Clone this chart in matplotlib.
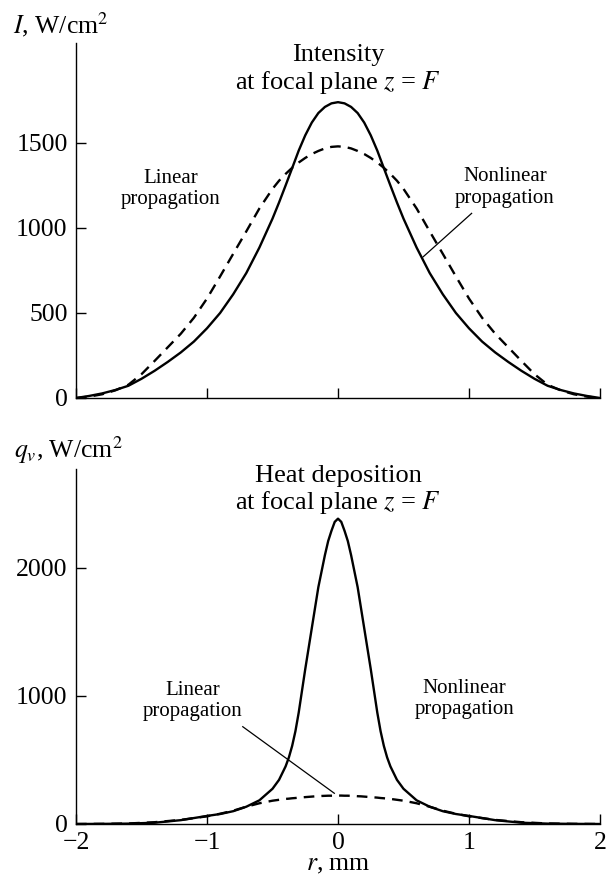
import matplotlib
matplotlib.use("Agg")
import matplotlib.pyplot as plt

plt.rcParams['font.family'] = ['Liberation Serif', 'DejaVu Serif']
plt.rcParams['mathtext.fontset'] = 'stix'

# ---------------- data ----------------
r_top = [-2.0, -1.9, -1.8, -1.7, -1.6, -1.5, -1.4, -1.3, -1.2, -1.1, -1.0,
         -0.9, -0.8, -0.7, -0.6, -0.5, -0.45, -0.4, -0.35, -0.3, -0.25,
         -0.2, -0.15, -0.1, -0.05, 0.0, 0.05, 0.1, 0.15, 0.2,
         0.25, 0.3, 0.35, 0.4, 0.45, 0.5, 0.6, 0.7, 0.8, 0.9, 1.0,
         1.1, 1.2, 1.3, 1.4, 1.5, 1.6, 1.7, 1.8, 1.9, 2.0]
I_nonlinear = [0, 12, 27, 47, 72, 113, 160, 212, 268, 332, 410,
               500, 610, 735, 885, 1055, 1150, 1250, 1352, 1455, 1545,
               1620, 1676, 1712, 1733, 1740, 1733, 1712, 1676, 1620,
               1545, 1455, 1352, 1250, 1150, 1055, 885, 735, 610, 500, 410,
               332, 268, 212, 160, 113, 72, 47, 27, 12, 0]
I_linear = [0, 8, 22, 45, 78, 140, 218, 298, 378, 472, 585,
            715, 848, 980, 1115, 1230, 1278, 1318, 1354, 1385, 1412,
            1435, 1453, 1468, 1477, 1480, 1477, 1468, 1453, 1435,
            1412, 1385, 1354, 1318, 1278, 1230, 1115, 980, 848, 715, 585,
            472, 378, 298, 218, 140, 78, 45, 22, 8, 0]

r_bot = [-2.0, -1.8, -1.6, -1.4, -1.2, -1.0, -0.9, -0.8, -0.7, -0.6, -0.5,
         -0.45, -0.4, -0.375, -0.35, -0.325, -0.3, -0.275, -0.25, -0.225,
         -0.2, -0.175, -0.15, -0.125, -0.1, -0.075, -0.05, -0.025, 0.0,
         0.025, 0.05, 0.075, 0.1, 0.125, 0.15, 0.175, 0.2,
         0.225, 0.25, 0.275, 0.3, 0.325, 0.35, 0.375, 0.4, 0.45, 0.5,
         0.6, 0.7, 0.8, 0.9, 1.0, 1.2, 1.4, 1.6, 1.8, 2.0]
q_nonlinear = [0, 1, 3, 10, 30, 63, 78, 100, 135, 185, 275,
               345, 450, 520, 610, 725, 870, 1040, 1210, 1370,
               1530, 1690, 1850, 1975, 2100, 2210, 2290, 2360, 2385,
               2360, 2290, 2210, 2100, 1975, 1850, 1690, 1530,
               1370, 1210, 1040, 870, 725, 610, 520, 450, 345, 275,
               185, 135, 100, 78, 63, 30, 10, 3, 1, 0]
q_linear = [0, 1, 4, 14, 32, 60, 80, 104, 135, 162, 182,
            189, 196, 198, 201, 203, 206, 208, 210, 212,
            214, 216, 217, 219, 220, 221, 221, 222, 222,
            222, 221, 221, 220, 219, 217, 216, 214,
            212, 210, 208, 206, 203, 201, 198, 196, 189, 182,
            162, 135, 104, 80, 60, 32, 14, 4, 1, 0]

x_ticks = [-2, -1, 0, 1, 2]
x_ticklabels = ['\u22122', '\u22121', '0', '1', '2']
y_ticks_top = [0, 500, 1000, 1500]
y_ticks_bot = [0, 1000, 2000]

# ---------------- figure ----------------
W, H = 613, 882
fig = plt.figure(figsize=(W / 100, H / 100), dpi=100)
left, right = 76, 600
ax1 = fig.add_axes([left / W, 1 - 398 / H, (right - left) / W, (398 - 43) / H])
ax2 = fig.add_axes([left / W, 1 - 824 / H, (right - left) / W, (824 - 469) / H])

dash = (0, (4.5, 3.0))
lw = 1.7
ax1.plot(r_top, I_nonlinear, color='black', lw=lw, solid_joinstyle='round')
ax1.plot(r_top, I_linear, color='black', lw=lw, linestyle=dash)
ax2.plot(r_bot, q_nonlinear, color='black', lw=lw, solid_joinstyle='round')
ax2.plot(r_bot, q_linear, color='black', lw=lw, linestyle=dash)

ax1.set_ylim(0, 2088)
ax2.set_ylim(0, 2773)
for ax, yt in ((ax1, y_ticks_top), (ax2, y_ticks_bot)):
    ax.set_xlim(-2, 2)
    ax.spines['top'].set_visible(False)
    ax.spines['right'].set_visible(False)
    for s in ('left', 'bottom'):
        ax.spines[s].set_linewidth(1.0)
    ax.set_xticks(x_ticks)
    ax.set_yticks(yt)
    ax.set_yticklabels([str(v) for v in yt])
    ax.tick_params(direction='in', length=7, width=1.0, labelsize=18.5, pad=6)

ax1.set_xticklabels([])
ax2.set_xticklabels(x_ticklabels)
ax2.set_xlabel(r'$r$, mm', fontsize=18.5, labelpad=0)

# axis titles
fig.text(13 / W, 1 - 33 / H, r'$I$, W/cm$^2$', fontsize=18.5, va='baseline', ha='left')
fig.text(14 / W, 1 - 458 / H, r'$q_v$, W/cm$^2$', fontsize=18.5, va='baseline', ha='left')

# panel headings
ax1.text(0.0, 2015, 'Intensity', fontsize=19, ha='center', va='center')
ax1.text(0.0, 1858, r'at focal plane $z$ = $F$', fontsize=19, ha='center', va='center')
ax2.text(0.0, 2722, 'Heat deposition', fontsize=19, ha='center', va='center')
ax2.text(0.0, 2515, r'at focal plane $z$ = $F$', fontsize=19, ha='center', va='center')

# annotations
ax1.text(-1.275, 1229, 'Linear\npropagation', fontsize=15, ha='center', va='center', linespacing=1.15)
ax1.text(1.275, 1238, 'Nonlinear\npropagation', fontsize=15, ha='center', va='center', linespacing=1.15)
ax1.plot([1.02, 0.651], [1086, 831], color='black', lw=0.9)

ax2.text(-1.109, 961, 'Linear\npropagation', fontsize=15, ha='center', va='center', linespacing=1.15)
ax2.text(0.964, 976, 'Nonlinear\npropagation', fontsize=15, ha='center', va='center', linespacing=1.15)
ax2.plot([-0.727, -0.028], [760, 240], color='black', lw=0.9)

fig.savefig('out.png', dpi=100)
